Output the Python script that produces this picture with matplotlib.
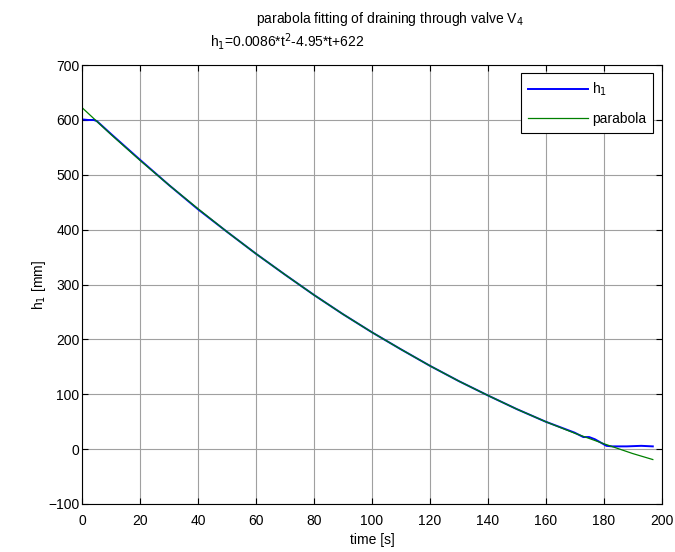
import matplotlib.pyplot as plt

plt.rcParams['font.family'] = ['Liberation Sans', 'DejaVu Sans']
plt.rcParams['font.size'] = 10

t_meas = [0, 2, 4, 5, 10, 20, 30, 40, 50, 60, 70, 80, 90, 100, 110, 120,
          130, 140, 150, 160, 170, 173, 175, 177, 179, 181, 183, 188, 193, 197]
h_meas = [601, 600, 600, 598, 574, 527, 481, 437, 396, 356, 318, 281, 246, 213,
          182, 152, 124, 98, 73, 50, 30, 22, 22, 18, 12, 6, 5, 5, 6, 5]

# fitted parabola values
t_fit = [0, 10, 20, 30, 40, 50, 60, 70, 80, 90, 100, 110, 120, 130, 140,
         150, 160, 170, 180, 190, 197]
h_fit = [622, 573, 526, 481, 438, 396, 356, 318, 281, 246, 213, 182, 152,
         124, 98, 73, 50, 29, 10, -8, -19]

fig = plt.figure(figsize=(6.75, 5.52), dpi=100)
ax = fig.add_axes([0.122, 0.087, 0.858, 0.795])

ax.plot(t_meas, h_meas, color='#0000ff', lw=1.4, label='h$_1$')
ax.plot(t_fit, h_fit, color='#008000', lw=0.9, label='parabola')

ax.set_xlim(0, 200)
ax.set_ylim(-100, 700)
ax.set_xticks(range(0, 201, 20))
ax.set_yticks(range(-100, 701, 100))
ax.grid(True, color='#a0a0a0', lw=0.8)
ax.tick_params(direction='in', top=True, right=True, length=4, width=0.8)
ax.tick_params(axis='x', pad=7)
ax.tick_params(axis='y', pad=2)
for s in ax.spines.values():
    s.set_linewidth(0.8)

ax.set_xlabel('time [s]', labelpad=4)
ax.set_ylabel('h$_1$ [mm]', labelpad=0)

fig.text(0.578, 0.965, 'parabola fitting of draining through valve V$_4$',
         ha='center', va='center')
fig.text(0.425, 0.925, 'h$_1$=0.0086*t$^2$-4.95*t+622', ha='center', va='center')

leg = ax.legend(loc='upper right', fancybox=False, framealpha=1,
                edgecolor='black', handlelength=4.3, handletextpad=0.3,
                labelspacing=1.0, borderaxespad=0.6, borderpad=0.5)
leg.get_frame().set_linewidth(0.8)

fig.savefig('out.png', dpi=100)
